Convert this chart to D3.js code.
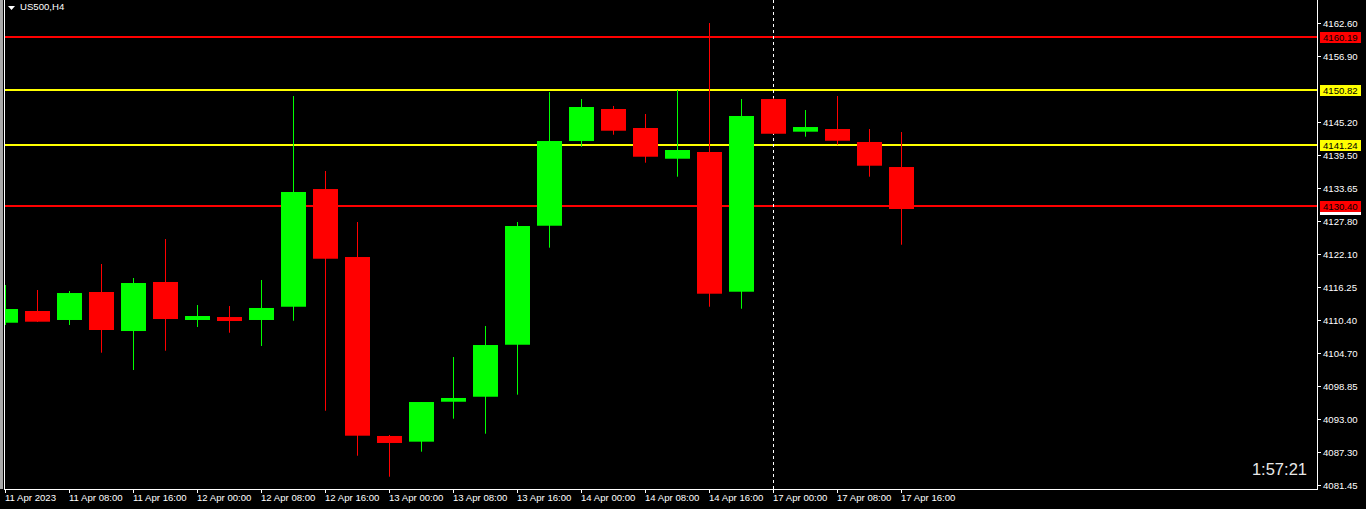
<!DOCTYPE html>
<html><head><meta charset="utf-8">
<script src="https://cdn.jsdelivr.net/npm/d3@7"></script>
<style>html,body{margin:0;padding:0;background:#000;overflow:hidden}svg{display:block}</style>
</head><body><svg id="c" width="1366" height="509"></svg>
<script>
// ---------- data ----------
const symbolTitle = "US500,H4";
const countdown = "1:57:21";
const candleTimes = [
  "11 Apr 00:00","11 Apr 04:00","11 Apr 08:00","11 Apr 12:00","11 Apr 16:00","11 Apr 20:00",
  "12 Apr 00:00","12 Apr 04:00","12 Apr 08:00","12 Apr 12:00","12 Apr 16:00","12 Apr 20:00",
  "13 Apr 00:00","13 Apr 04:00","13 Apr 08:00","13 Apr 12:00","13 Apr 16:00","13 Apr 20:00",
  "14 Apr 00:00","14 Apr 04:00","14 Apr 08:00","14 Apr 12:00","14 Apr 16:00","14 Apr 20:00",
  "17 Apr 00:00","17 Apr 04:00","17 Apr 08:00","17 Apr 12:00","17 Apr 16:00"
];
const opens  = [4109.97,4112.03,4110.45,4115.37,4108.51,4117.13,4110.45,4110.97,4110.45,4112.78,
                4133.47,4121.52,4090.06,4089.06,4096.08,4096.96,4106.10,4127.02,4141.91,4147.54,
                4144.20,4138.80,4139.98,4115.42,4149.29,4143.55,4144.02,4141.74,4137.34];
const highs  = [4116.60,4115.72,4115.54,4120.29,4117.83,4124.68,4113.08,4112.90,4117.48,4149.82,
                4136.64,4127.67,4090.23,4096.03,4103.94,4109.39,4127.67,4150.52,4149.29,4148.07,
                4146.66,4150.88,4162.65,4149.29,4149.42,4147.36,4149.82,4144.02,4143.49];
const lows   = [4109.57,4110.10,4109.57,4104.70,4101.66,4105.05,4109.22,4108.21,4105.88,4110.32,
                4094.50,4086.59,4082.90,4087.30,4093.10,4090.46,4097.32,4123.16,4140.91,4143.02,
                4138.10,4135.64,4112.78,4112.43,4143.19,4142.67,4141.26,4135.64,4123.68];
const closes = [4112.38,4110.15,4115.19,4108.69,4116.95,4110.62,4111.15,4110.27,4112.56,4132.95,
                4121.22,4090.11,4088.83,4096.03,4096.74,4106.05,4126.97,4141.91,4147.89,4143.72,
                4139.15,4140.33,4115.07,4146.31,4143.19,4144.37,4141.96,4137.57,4129.96];
const xTickCandles = ["11 Apr 00:00","11 Apr 08:00","11 Apr 16:00","12 Apr 00:00","12 Apr 08:00",
  "12 Apr 16:00","13 Apr 00:00","13 Apr 08:00","13 Apr 16:00","14 Apr 00:00","14 Apr 08:00",
  "14 Apr 16:00","17 Apr 00:00","17 Apr 08:00","17 Apr 16:00"];
const xTickLabels = ["11 Apr 2023","11 Apr 08:00","11 Apr 16:00","12 Apr 00:00","12 Apr 08:00",
  "12 Apr 16:00","13 Apr 00:00","13 Apr 08:00","13 Apr 16:00","14 Apr 00:00","14 Apr 08:00",
  "14 Apr 16:00","17 Apr 00:00","17 Apr 08:00","17 Apr 16:00"];
const yTicks = [4162.60,4156.90,4145.20,4139.50,4133.65,4127.80,4122.10,4116.25,4110.40,
                4104.70,4098.85,4093.00,4087.30,4081.45];
const levelValues = [4160.19, 4150.82, 4141.24, 4130.40];
const levelKinds  = ["red", "yellow", "yellow", "red"];
const lastPrice = 4129.96;
const separatorAt = "17 Apr 00:00";
const yDomain = [4080.74, 4166.70];

// ---------- layout ----------
const W = 1366, H = 509;
const plotL = 5, plotR = 1317, plotT = 0, plotB = 489;
const font = "'Liberation Sans', Arial, sans-serif";
const colors = {red: "#ff0000", yellow: "#ffff00", up: "#00ff00", down: "#ff0000"};

const svg = d3.select("#c");
svg.append("rect").attr("width", W).attr("height", H).attr("fill", "#000");

const x = d3.scalePoint().domain(candleTimes).range([5, 5 + 32 * (candleTimes.length - 1)]);
const y = d3.scaleLinear().domain(yDomain).range([plotB, plotT]);

const candles = candleTimes.map((t, i) => ({t, o: opens[i], h: highs[i], l: lows[i], c: closes[i]}));

svg.append("clipPath").attr("id", "clip").append("rect")
  .attr("x", plotL).attr("y", plotT).attr("width", plotR - plotL).attr("height", plotB - plotT);
const plot = svg.append("g").attr("clip-path", "url(#clip)");

// horizontal levels
plot.selectAll("rect.level").data(levelValues).join("rect").attr("class", "level")
  .attr("x", plotL).attr("width", plotR - plotL)
  .attr("y", d => Math.round(y(d)) - 1).attr("height", 2)
  .attr("fill", (d, i) => colors[levelKinds[i]]);

// separator dashed line
plot.append("line")
  .attr("x1", x(separatorAt) + 0.5).attr("x2", x(separatorAt) + 0.5)
  .attr("y1", plotT).attr("y2", plotB)
  .attr("stroke", "#fff").attr("stroke-width", 1).attr("stroke-dasharray", "3,3");

// candles
const cg = plot.selectAll("g.candle").data(candles).join("g").attr("class", "candle");
cg.append("line")
  .attr("x1", d => x(d.t) + 0.5).attr("x2", d => x(d.t) + 0.5)
  .attr("y1", d => y(d.h)).attr("y2", d => y(d.l))
  .attr("stroke", d => d.c >= d.o ? colors.up : colors.down).attr("stroke-width", 1);
cg.append("rect")
  .attr("x", d => x(d.t) - 12).attr("width", 25)
  .attr("y", d => y(Math.max(d.o, d.c)))
  .attr("height", d => Math.max(1, y(Math.min(d.o, d.c)) - y(Math.max(d.o, d.c))))
  .attr("fill", d => d.c >= d.o ? colors.up : colors.down);

// frame
svg.append("rect").attr("x", 0).attr("y", 0).attr("width", 3).attr("height", plotB).attr("fill", "#a8a8a8");
svg.append("line").attr("x1", 4.5).attr("x2", 4.5).attr("y1", 0).attr("y2", plotB + 0.5).attr("stroke", "#fff");
svg.append("line").attr("x1", plotR + 0.5).attr("x2", plotR + 0.5).attr("y1", 0).attr("y2", plotB + 0.5).attr("stroke", "#fff");
svg.append("line").attr("x1", 4).attr("x2", plotR + 1).attr("y1", plotB + 0.5).attr("y2", plotB + 0.5).attr("stroke", "#fff");

// y axis ticks & labels
const ya = svg.append("g");
ya.selectAll("line").data(yTicks).join("line")
  .attr("x1", plotR + 1).attr("x2", plotR + 4)
  .attr("y1", d => Math.round(y(d)) + 0.5).attr("y2", d => Math.round(y(d)) + 0.5)
  .attr("stroke", "#fff");
ya.selectAll("text").data(yTicks).join("text")
  .attr("x", plotR + 6).attr("y", d => Math.round(y(d)) + 3.5)
  .attr("fill", "#fff").attr("font-family", font).attr("font-size", "9.6px")
  .text(d => d.toFixed(2));

// current price marker (white, mostly hidden behind the red level label), then level labels
const lastY = Math.round(y(lastPrice));
svg.append("rect").attr("x", plotR + 3).attr("y", lastY - 5).attr("width", 41).attr("height", 11).attr("fill", "#fff");
levelValues.forEach((v, i) => {
  const cy = Math.round(y(v));
  svg.append("rect").attr("x", plotR + 3).attr("y", cy - 5).attr("width", 41).attr("height", 11)
    .attr("fill", colors[levelKinds[i]]);
  svg.append("text").attr("x", plotR + 6).attr("y", cy + 3.5)
    .attr("fill", "#000").attr("font-family", font).attr("font-size", "9.6px").text(v.toFixed(2));
});

// x axis ticks & labels
const xa = svg.append("g");
xa.selectAll("line").data(xTickCandles).join("line")
  .attr("x1", d => x(d) + 0.5).attr("x2", d => x(d) + 0.5)
  .attr("y1", plotB).attr("y2", plotB + 4).attr("stroke", "#fff");
xa.selectAll("text").data(xTickCandles).join("text")
  .attr("x", d => x(d)).attr("y", 500.5)
  .attr("fill", "#fff").attr("font-family", font).attr("font-size", "9.6px")
  .text((d, i) => xTickLabels[i]);

// title
svg.append("path").attr("d", "M8,6 L15,6 L11.5,10 Z").attr("fill", "#fff");
svg.append("text").attr("x", 20).attr("y", 10).attr("fill", "#fff")
  .attr("font-family", font).attr("font-size", "9.6px").text(symbolTitle);

// countdown
svg.append("text").attr("x", 1307).attr("y", 475).attr("text-anchor", "end")
  .attr("fill", "#e8e8e8").attr("font-family", font).attr("font-size", "16.5px").text(countdown);
</script></body></html>
